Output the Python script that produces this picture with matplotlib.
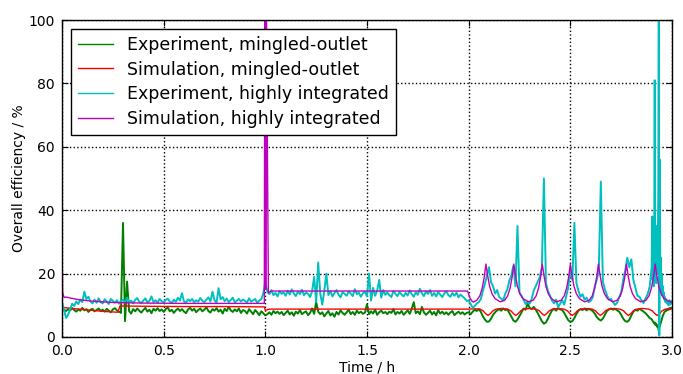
import numpy as np
import matplotlib
matplotlib.use('Agg')
import matplotlib.pyplot as plt

# --- experiment data, sampled every 0.01 h up to 2.89 h, then every 0.0025 h ---
t_exp = np.concatenate([np.arange(0, 290) * 0.01, 2.9 + np.arange(0, 41) * 0.0025])

exp_mingled = [
    # 0.0 - 0.99
    9.0, 8.6, 8.2, 8.8, 8.4, 9.1, 8.5, 8.0, 8.7, 8.3,
    9.2, 8.4, 8.8, 7.9, 8.6, 8.9, 8.1, 8.5, 9.0, 8.2,
    8.6, 8.0, 8.9, 8.3, 7.8, 8.7, 9.1, 8.4, 8.0, 7.6,
    36.0, 5.0, 17.5, 8.2, 7.4, 8.8, 8.1, 9.0, 8.3, 7.7,
    8.5, 9.2, 8.0, 8.6, 7.5, 8.9, 8.3, 9.1, 8.2, 8.7,
    7.9, 8.8, 9.3, 8.1, 8.6, 7.6, 8.4, 9.0, 8.2, 8.8,
    8.0, 7.5, 8.7, 9.2, 8.3, 8.9, 7.8, 8.5, 9.0, 8.1,
    8.6, 9.4, 8.2, 7.7, 8.8, 8.3, 9.1, 8.0, 8.6, 7.4,
    8.9, 8.2, 9.5, 8.4, 7.9, 8.7, 8.1, 9.0, 7.6, 8.5,
    8.2, 7.4, 8.8, 8.0, 7.2, 8.5, 7.8, 6.9, 8.1, 7.5,
    # 1.0 - 1.99
    6.8, 7.2, 7.8, 7.0, 8.2, 7.5, 8.0, 7.3, 7.9, 6.9,
    7.6, 8.3, 7.1, 7.8, 6.7, 8.0, 7.4, 8.5, 7.2, 7.7,
    8.1, 6.9, 7.6, 9.0, 7.3, 11.0, 8.0, 7.2, 7.8, 6.5,
    7.4, 8.2, 6.8, 7.5, 6.4, 7.9, 7.1, 8.4, 7.6, 7.0,
    7.8, 8.6, 7.2, 7.9, 7.0, 8.3, 7.5, 8.0, 7.3, 7.7,
    10.3, 7.2, 8.1, 7.4, 8.6, 7.0, 7.8, 8.3, 7.5, 7.9,
    7.2, 8.0, 7.6, 8.8, 7.1, 7.9, 7.4, 8.2, 7.0, 7.7,
    8.4, 7.3, 8.9, 11.0, 7.5, 8.1, 7.2, 9.5, 7.8, 7.0,
    7.6, 8.3, 7.1, 7.9, 6.8, 8.5, 7.4, 8.0, 7.2, 7.8,
    7.0, 7.7, 8.2, 6.9, 7.5, 8.0, 7.3, 7.8, 7.1, 7.6,
    # 2.0 - 2.89
    7.8, 7.2, 8.0, 8.6, 8.2, 8.8, 7.9, 6.5, 5.5, 4.8,
    4.9, 5.8, 7.0, 7.8, 8.4, 8.8, 8.3, 9.0, 8.5, 8.7,
    7.6, 6.4, 5.2, 4.8, 5.5, 6.6, 7.8, 9.0, 8.6, 10.5,
    9.2, 8.8, 9.5, 8.6, 7.5, 6.2, 5.0, 4.2, 4.6, 5.8,
    7.2, 8.4, 8.9, 8.3, 9.1, 8.7, 8.5, 7.6, 6.4, 5.3,
    4.8, 5.0, 6.0, 7.3, 8.3, 8.8, 8.5, 9.0, 8.4, 8.9,
    8.6, 8.2, 7.4, 6.3, 5.6, 5.2, 5.8, 7.0, 8.2, 8.7,
    9.0, 8.6, 8.9, 8.4, 8.0, 7.0, 5.8, 5.0, 4.8, 5.4,
    6.8, 8.0, 8.6, 8.3, 8.9, 8.5, 8.0, 7.5, 6.8, 6.0,
    # 2.9 - 3.0
    5.6, 5.3, 5.0, 4.8, 4.6, 4.3, 4.6, 4.0, 3.8, 4.2,
    3.5, 3.2, 3.6, 2.8, 2.0, 3.0, 3.4, 4.0, 4.5, 5.0,
    5.6, 6.2, 6.8, 7.0, 7.5, 7.8, 8.0, 8.2, 8.5, 8.3,
    8.6, 8.8, 8.5, 8.9, 9.0, 8.7, 9.1, 8.9, 9.2, 9.0,
    9.0,
]

exp_integrated = [
    # 0.0 - 0.99
    11.0, 8.5, 6.0, 7.0, 8.8, 10.5, 9.8, 11.2, 10.4, 11.8,
    11.0, 14.3, 12.0, 12.7, 11.2, 10.6, 11.8, 10.8, 12.2, 11.0,
    10.6, 11.9, 11.2, 10.4, 12.0, 11.4, 10.8, 11.6, 10.5, 11.3,
    11.8, 10.9, 12.4, 11.0, 11.5, 10.6, 11.7, 12.3, 11.1, 10.7,
    11.5, 12.2, 10.9, 11.4, 12.8, 11.0, 11.6, 10.8, 12.0, 11.3,
    10.9, 11.7, 12.1, 11.2, 10.7, 11.8, 11.1, 12.4, 11.5, 13.8,
    11.2, 10.8, 11.9, 11.3, 12.0, 10.9, 11.6, 11.1, 12.3, 11.4,
    11.0, 11.8, 12.5, 11.2, 14.3, 11.6, 10.8, 15.4, 11.9, 12.6,
    11.3, 12.1, 11.0, 11.7, 12.4, 10.9, 11.5, 12.0, 11.2, 11.8,
    11.4, 10.9, 12.2, 11.1, 11.6, 12.0, 10.8, 11.5, 11.9, 13.8,
    # 1.0 - 1.99
    17.4, 14.2, 13.5, 14.8, 13.2, 13.9, 12.8, 14.5, 13.6, 14.1,
    13.0, 14.6, 13.4, 15.0, 13.8, 12.9, 14.3, 13.5, 14.9, 13.2,
    14.0, 13.6, 12.6, 14.4, 19.0, 11.0, 23.5, 13.8, 10.2, 14.6,
    20.0, 13.2, 14.5, 12.8, 13.9, 14.8, 13.3, 12.5, 14.2, 13.6,
    13.0, 14.4, 13.7, 12.9, 15.1, 13.5, 14.0, 12.7, 13.8, 14.3,
    12.8, 20.0, 11.5, 15.5, 13.0, 14.6, 18.0, 12.4, 14.8, 13.3,
    14.0, 13.2, 12.6, 14.5, 13.6, 12.9, 14.2, 13.4, 12.8, 13.9,
    13.1, 14.7, 13.5, 12.7, 14.1, 13.3, 15.2, 13.8, 12.9, 14.4,
    13.6, 14.8, 13.0, 13.9, 12.8, 14.2, 13.4, 12.6, 13.7, 14.5,
    13.2, 12.7, 13.9, 13.0, 14.0, 12.5, 13.4, 12.8, 12.2, 11.4,
    # 2.0 - 2.89
    11.5, 10.4, 9.2, 9.8, 10.6, 11.0, 12.0, 14.5, 16.8, 19.4,
    22.0, 17.3, 16.0, 13.7, 14.8, 12.6, 12.1, 11.5, 13.7, 15.0,
    17.8, 19.4, 22.5, 16.0, 35.0, 14.0, 13.0, 11.8, 10.4, 11.2,
    10.5, 12.0, 14.7, 16.0, 17.5, 18.9, 22.0, 50.0, 17.0, 14.5,
    13.0, 11.5, 10.6, 11.8, 9.4, 10.5, 11.6, 10.2, 13.0, 15.7,
    21.0, 18.0, 36.0, 17.0, 14.5, 12.7, 13.5, 11.8, 12.4, 11.0,
    11.4, 12.5, 15.9, 18.0, 21.0, 49.0, 17.5, 15.0, 13.2, 11.7,
    12.0, 11.0, 10.1, 10.8, 12.5, 14.0, 18.0, 21.0, 25.0, 22.0,
    24.5, 18.0, 15.5, 13.0, 12.7, 11.5, 10.7, 12.2, 13.5, 15.8,
    # 2.9 - 3.0
    22.0, 38.0, 18.0, 25.0, 16.0, 30.0, 81.0, 20.0, 26.0, 17.0,
    35.0, 20.0, 28.0, 45.0, 100.0, 0.5, 56.0, 18.0, 25.0, 14.0,
    20.0, 13.0, 16.0, 12.5, 14.0, 11.8, 12.6, 11.0, 12.0, 10.8,
    11.5, 10.4, 11.2, 10.0, 10.8, 11.6, 10.2, 11.0, 10.5, 11.3,
    11.0,
]

# --- simulation data ---
t_sim_mingled = [
    0.0, 0.01, 0.05, 0.1, 0.15, 0.2, 0.25, 0.275, 0.285, 0.4, 0.6, 0.8, 0.995,
    1.0, 1.02, 1.5, 2.0, 2.03, 2.055,
    2.07, 2.083, 2.095, 2.107, 2.12, 2.135, 2.16, 2.19,
    2.207, 2.22, 2.232, 2.244, 2.257, 2.272, 2.30, 2.33,
    2.347, 2.36, 2.372, 2.384, 2.397, 2.412, 2.44, 2.468,
    2.485, 2.498, 2.51, 2.522, 2.535, 2.55, 2.578, 2.606,
    2.623, 2.636, 2.648, 2.66, 2.673, 2.688, 2.716, 2.744,
    2.761, 2.774, 2.786, 2.798, 2.811, 2.826, 2.855, 2.885,
    2.902, 2.915, 2.927, 2.939, 2.952, 2.967, 3.0,
]
sim_mingled = [
    9.5, 9.3, 9.0, 8.7, 8.4, 8.1, 7.9, 7.8, 9.8, 9.7, 9.6, 9.6, 9.5,
    8.4, 8.8, 8.8, 8.8, 8.9, 8.8,
    8.3, 7.4, 6.8, 7.4, 8.3, 8.8, 9.0, 8.8,
    8.3, 7.4, 6.8, 7.4, 8.3, 8.8, 9.0, 8.8,
    8.3, 7.4, 6.8, 7.4, 8.3, 8.8, 9.0, 8.8,
    8.3, 7.4, 6.8, 7.4, 8.3, 8.8, 9.0, 8.8,
    8.3, 7.4, 6.8, 7.4, 8.3, 8.8, 9.0, 8.8,
    8.3, 7.4, 6.8, 7.4, 8.3, 8.8, 9.0, 8.8,
    8.3, 7.4, 6.8, 7.4, 8.3, 8.8, 9.0,
]

t_sim_integrated = [
    0.0, 0.003, 0.01, 0.02, 0.04, 0.08, 0.15, 0.25, 0.4, 0.6, 0.8, 0.995,
    0.997, 0.998, 0.999, 1.0, 1.001, 1.002, 1.003, 1.004, 1.006, 1.015, 1.03, 1.5, 1.995,
    2.005, 2.015, 2.023,
    2.04, 2.055, 2.067, 2.077, 2.085, 2.093, 2.103, 2.115, 2.13, 2.155,
    2.177, 2.192, 2.204, 2.214, 2.222, 2.23, 2.24, 2.252, 2.267, 2.294,
    2.317, 2.332, 2.344, 2.354, 2.362, 2.37, 2.38, 2.392, 2.407, 2.432,
    2.455, 2.47, 2.482, 2.492, 2.5, 2.508, 2.518, 2.53, 2.545, 2.57,
    2.593, 2.608, 2.62, 2.63, 2.638, 2.646, 2.656, 2.668, 2.683, 2.708,
    2.731, 2.746, 2.758, 2.768, 2.776, 2.784, 2.794, 2.806, 2.821, 2.846,
    2.872, 2.887, 2.899, 2.909, 2.917, 2.925, 2.935, 2.947, 2.962, 2.987, 3.0,
]
sim_integrated = [
    30.0, 14.0, 12.5, 12.6, 12.3, 11.8, 11.3, 10.9, 10.7, 10.6, 10.6, 10.6,
    100.0, 20.0, 100.0, 30.0, 100.0, 15.0, 100.0, 40.0, 100.0, 14.0, 14.5, 14.5, 14.5,
    12.5, 11.4, 11.0,
    11.6, 13.0, 15.5, 19.0, 23.0, 19.5, 16.0, 13.6, 12.1, 11.1,
    11.6, 13.0, 15.5, 19.0, 23.0, 19.5, 16.0, 13.6, 12.1, 11.1,
    11.6, 13.0, 15.5, 19.0, 23.0, 19.5, 16.0, 13.6, 12.1, 11.1,
    11.6, 13.0, 15.5, 19.0, 23.0, 19.5, 16.0, 13.6, 12.1, 11.1,
    11.6, 13.0, 15.5, 19.0, 23.0, 19.5, 16.0, 13.6, 12.1, 11.1,
    11.6, 13.0, 15.5, 19.0, 23.0, 19.5, 16.0, 13.6, 12.1, 11.1,
    11.6, 13.0, 15.5, 19.0, 23.0, 19.5, 16.0, 13.6, 12.1, 11.2, 11.0,
]

labels = ['Experiment, mingled-outlet', 'Simulation, mingled-outlet',
          'Experiment, highly integrated', 'Simulation, highly integrated']

plt.rcParams['font.family'] = 'DejaVu Sans'
fig = plt.figure(figsize=(6.83, 3.74), dpi=100)
ax = fig.add_axes([62 / 683, 1 - 337 / 374, 610 / 683, 317 / 374])

# thicker experiment lines mimic the dense raw samples
ax.plot(t_exp, exp_mingled, color=(0, 0.5, 0), lw=1.4, label=labels[0])
ax.plot(t_sim_mingled, sim_mingled, color='red', lw=1.0, label=labels[1])
ax.plot(t_exp, exp_integrated, color=(0, 0.75, 0.75), lw=1.4, label=labels[2])
ax.plot(t_sim_integrated, sim_integrated, color=(0.75, 0, 0.75), lw=1.0, label=labels[3])

ax.set_xlim(0, 3.0)
ax.set_ylim(0, 100)
ax.set_xticks([0.0, 0.5, 1.0, 1.5, 2.0, 2.5, 3.0])
ax.set_yticks([0, 20, 40, 60, 80, 100])
ax.set_xlabel('Time / h', fontsize=10, labelpad=2)
ax.set_ylabel('Overall efficiency / %', fontsize=10, labelpad=2)
ax.tick_params(direction='in', top=True, right=True, length=4, labelsize=10, pad=5)
ax.grid(True, color='black', linestyle=':', linewidth=1.0)
for s in ax.spines.values():
    s.set_linewidth(1.0)

leg = ax.legend(loc='upper left', fontsize=12.5, fancybox=False, framealpha=1,
                edgecolor='black', borderaxespad=0.5, handlelength=2.0,
                handletextpad=0.8, labelspacing=0.38, borderpad=0.42)
leg.get_frame().set_linewidth(1.0)
for h in leg.get_lines():
    h.set_linewidth(1.0)

fig.savefig('out.png', dpi=100, facecolor='white')
